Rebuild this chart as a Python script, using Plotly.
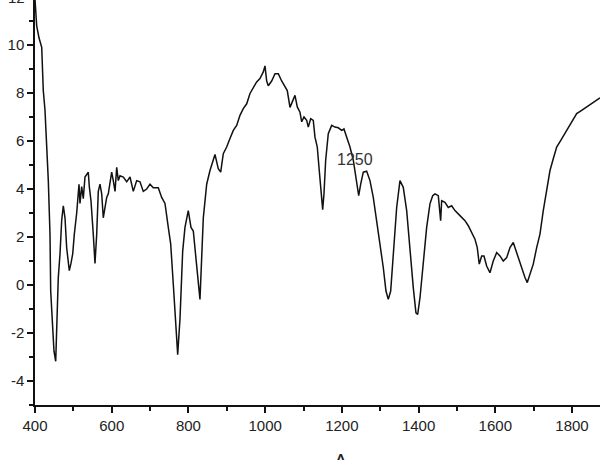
import plotly.graph_objects as go

wavenumber = [
    400, 404.4, 410.4, 417.5, 421.6, 426, 434.7, 439.1, 440.9, 443.5, 446.1, 449.5, 454,
    458.1, 460.7, 465.2, 469.6, 473.8, 478.2, 482.6, 489.4, 493.8, 498.3, 502.4, 508.7,
    514.7, 517.3, 521.7, 525.9, 530.3, 534.8, 538.9, 541.6, 546, 552, 556.4, 560.8, 565,
    569.4, 573.9, 578, 582.5, 586.9, 591.1, 595.5, 599.9, 604.1, 608.6, 613, 617.2, 621.6,
    630.2, 639.1, 647.7, 656.3, 665.1, 673.7, 682.3, 691.2, 699.8, 708.4, 721.4, 730.3,
    738.9, 747.5, 753.8, 760.5, 766.8, 772, 778, 785, 791, 799.6, 806.7, 812.7, 819.7,
    825.7, 830.1, 838.8, 847.6, 856.2, 864.8, 869.2, 877.8, 884.1, 890.9, 899.7, 908.3,
    917, 925.8, 934.4, 943, 951.9, 960.5, 969.1, 977.9, 986.5, 995.2, 999.6, 1004, 1008.2,
    1017, 1025.7, 1034.3, 1043.1, 1051.7, 1057.7, 1064.8, 1071.8, 1077.8, 1083.8, 1090.8,
    1095.3, 1101.3, 1108.3, 1112.5, 1118.7, 1125.5, 1129.9, 1135.9, 1141.1, 1147.4, 1150,
    1153.4, 1157.8, 1164.6, 1173.5, 1182, 1190.7, 1199.5, 1205.5, 1212.6, 1221.2, 1229.8,
    1238.7, 1243.9, 1249.1, 1255.9, 1264.7, 1273.3, 1281.9, 1290.8, 1299.4, 1308, 1315,
    1321, 1327.3, 1334, 1342.9, 1351.5, 1360.1, 1369, 1377.6, 1386.2, 1393.2, 1397.7,
    1403.7, 1412.3, 1421.1, 1429.7, 1436.8, 1442.8, 1451.4, 1457.6, 1460.2, 1468.8,
    1477.4, 1486.3, 1494.9, 1507.9, 1521, 1529.6, 1538.4, 1547, 1553, 1558.2, 1564.5,
    1570.5, 1577.5, 1586.1, 1594.7, 1603.6, 1612.2, 1620.8, 1629.7, 1638.3, 1646.9,
    1653.9, 1659.9, 1668.8, 1677.4, 1683.4, 1690.4, 1699, 1707.9, 1716.5, 1725.1, 1734,
    1742.6, 1751.2, 1760.1, 1773.1, 1786.1, 1799.2, 1812.2, 1825.2, 1838.3, 1851.3,
    1864.3, 1872.9,
]

intensity = [
    11.9, 10.8, 10.3, 9.9, 8.1, 7.3, 4.35, 2.1, -0.25, -1.2, -1.6, -2.76, -3.18,
    -1.4, 0.3, 1.3, 2.7, 3.3, 2.8, 1.55, 0.6, 0.9, 1.3, 2.1, 3.0,
    4.2, 3.4, 4.1, 3.6, 4.5, 4.6, 4.7, 4.1, 3.5, 2.1, 0.9, 2.1, 3.9,
    4.2, 3.8, 2.8, 3.2, 3.65, 3.8, 4.3, 4.7, 4.35, 3.9, 4.9, 4.35, 4.55,
    4.5, 4.3, 4.5, 3.9, 4.35, 4.3, 3.9, 4.0, 4.2, 4.05, 4.05, 3.65,
    3.4, 2.4, 1.7, 0.04, -1.4, -2.9, -1.4, 1.4, 2.4, 3.1, 2.4, 2.25, 1.1,
    -0.1, -0.6, 2.8, 4.2, 4.77, 5.2, 5.44, 4.85, 4.7, 5.47, 5.75, 6.1,
    6.44, 6.65, 7.07, 7.35, 7.55, 7.98, 8.25, 8.46, 8.6, 8.88, 9.13, 8.5, 8.3,
    8.5, 8.8, 8.8, 8.5, 8.25, 8.1, 7.4, 7.7, 7.9, 7.42, 7.2,
    6.8, 7.0, 6.86, 6.58, 6.93, 6.86, 6.16, 5.75, 4.77, 3.5, 3.14,
    3.8, 5.2, 6.3, 6.65, 6.58, 6.55, 6.44, 6.5, 6.16, 5.75, 5.2,
    4.35, 3.72, 4.2, 4.7, 4.74, 4.35, 3.65, 2.68, 1.7, 0.73, -0.25,
    -0.6, -0.25, 1.14, 3.23, 4.35, 4.07, 3.1, 1.42, -0.11, -1.16, -1.23,
    -0.53, 1.0, 2.4, 3.38, 3.72, 3.8, 3.72, 2.68, 3.51, 3.44,
    3.23, 3.3, 3.1, 2.89, 2.68, 2.47, 2.19, 1.91, 1.56, 0.87, 1.21,
    1.21, 0.79, 0.51, 1.0, 1.35, 1.21, 1.0, 1.14, 1.56, 1.77,
    1.42, 1.21, 0.72, 0.31, 0.1, 0.45, 0.87, 1.56, 2.12, 3.1, 3.93,
    4.77, 5.26, 5.75, 6.09, 6.44, 6.8, 7.14, 7.28, 7.42, 7.56,
    7.7, 7.8,
]

x_ticks = [400, 600, 800, 1000, 1200, 1400, 1600, 1800]
y_ticks = [-4, -2, 0, 2, 4, 6, 8, 10]
peak_label = "1250"
peak_pos = (1234, 5.23)

fig = go.Figure()
fig.add_trace(go.Scatter(
    x=wavenumber, y=intensity, mode="lines",
    line=dict(color="#111111", width=1.5),
    showlegend=False, hoverinfo="skip",
))

font = dict(family="Liberation Sans, Arial, sans-serif", size=15, color="#222222")

fig.update_layout(
    width=600, height=460,
    margin=dict(l=35, r=0, t=0, b=55),
    paper_bgcolor="white", plot_bgcolor="white",
    font=font,
    xaxis=dict(
        range=[400, 1873], tickvals=x_ticks, ticktext=[str(v) for v in x_ticks],
        automargin=False,
        showgrid=False, zeroline=False, showline=True, linecolor="#111111", linewidth=1.5,
        ticks="outside", ticklen=6, tickwidth=1.5, tickcolor="#111111",
        minor=dict(dtick=100, tick0=400, ticks="outside", ticklen=4, tickwidth=1.5, tickcolor="#111111"),
        tickfont=font,
    ),
    yaxis=dict(
        range=[-5, 11.875], tickvals=y_ticks, ticktext=[str(v) for v in y_ticks],
        automargin=False,
        showgrid=False, zeroline=False, showline=True, linecolor="#111111", linewidth=1.5,
        ticks="outside", ticklen=6, tickwidth=1.5, tickcolor="#111111",
        minor=dict(dtick=1, tick0=0, ticks="outside", ticklen=4, tickwidth=1.5, tickcolor="#111111"),
        tickfont=font,
    ),
    annotations=[
        dict(x=peak_pos[0], y=peak_pos[1], xref="x", yref="y", text=peak_label,
             showarrow=False, font=dict(family="Liberation Sans, Arial, sans-serif", size=16, color="#333333")),
        dict(x=0, y=1.0074, xref="paper", yref="paper", text="12", showarrow=False,
             xanchor="right", yanchor="middle", xshift=-8, font=font),
        dict(x=0.5416, y=-0.1062, xref="paper", yref="paper", text="A", showarrow=False,
             xanchor="center", yanchor="top", font=dict(family="Liberation Sans, Arial, sans-serif", size=20, color="#222222")),
    ],
)

fig.write_html("out.html", config={"displayModeBar": False},
               post_script="document.body.style.margin='0px';document.body.style.overflow='hidden';")
